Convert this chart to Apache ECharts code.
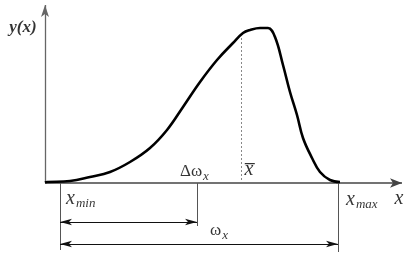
<!DOCTYPE html>
<html><head><meta charset="utf-8">
<script src="https://cdn.jsdelivr.net/npm/echarts@6/dist/echarts.min.js"></script>
<style>html,body{margin:0;padding:0;background:#fff}#c{width:412px;height:257px}</style>
</head><body><div id="c"></div>
<script>
// Distribution curve y(x) (units: px-scaled)
const curveX = [0, 2, 25, 45, 65, 85, 105, 122, 138, 155, 172, 188, 198, 205, 215, 223, 230, 238, 245, 252, 258, 267, 275, 285, 295];
const curveY = [0.5, 1, 2, 6, 11, 21, 35, 53, 76, 101, 123, 140, 150, 153, 155, 155, 146, 118, 91, 68, 45, 25, 11, 3, 1];
// key positions on x
const xMin = 15, xDeltaEnd = 152, xBar = 196, xMax = 293;
const axisXEnd = 357, axisYEnd = 178;
const dimY1 = -39, dimY2 = -61;
// labels
const labelX = [-22, 21, 135, 204, 301, 354, 165];
const labelY = [155, -16, 11, 13, -17, -16, -48];
const labelText = ['{b|y(x)}', '{v|x}{s|min}', '{u|Δω}{s|x}', '{v|x\u0305}', '{v|x}{s|max}', '{v|x}', '{u|ω}{s|x}'];
const labelAlign = ['center', 'left', 'left', 'center', 'left', 'center', 'left'];

const serif = 'Liberation Serif';
const chart = echarts.init(document.getElementById('c'), null, {renderer: 'canvas'});
const thin = {color: '#111', width: 1, type: 'solid'};
const arrowBoth = (x1, x2, y) => [
  {coord: [x1, y], symbol: 'arrow', symbolSize: [5, 12], lineStyle: thin},
  {coord: [x2, y], symbol: 'arrow', symbolSize: [5, 12]}
];
const plain = (x1, y1, x2, y2, style) => [
  {coord: [x1, y1], symbol: 'none', lineStyle: style || {color: '#555', width: 1, type: 'solid'}},
  {coord: [x2, y2], symbol: 'none'}
];
const rich = {
  b: {fontFamily: serif, fontStyle: 'italic', fontWeight: 'bold', fontSize: 17, color: '#000'},
  v: {fontFamily: serif, fontStyle: 'italic', fontSize: 20, color: '#000'},
  u: {fontFamily: serif, fontStyle: 'normal', fontSize: 17, color: '#000'},
  s: {fontFamily: serif, fontStyle: 'italic', fontSize: 13, color: '#000', verticalAlign: 'bottom', padding: [9, 0, 0, 1]}
};
const labelSeries = align => {
  const idx = labelAlign.map((a, i) => a === align ? i : -1).filter(i => i >= 0);
  return {
    type: 'scatter',
    symbolSize: 0,
    clip: false,
    silent: true,
    data: idx.map(i => [labelX[i], labelY[i], i]),
    label: {
      show: true,
      position: 'inside',
      align: align,
      fontFamily: serif,
      fontSize: 20,
      color: '#000',
      formatter: p => labelText[p.value[2]],
      rich: rich
    }
  };
};
chart.setOption({
  animation: false,
  textStyle: {fontFamily: serif},
  grid: {left: 0, right: 0, top: 0, bottom: 0},
  xAxis: {type: 'value', min: -45, max: 367, show: false},
  yAxis: {type: 'value', min: -74, max: 183, show: false},
  series: [
    {
      type: 'line',
      data: curveX.map((x, i) => [x, curveY[i]]),
      smooth: 0.4,
      showSymbol: false,
      symbol: 'none',
      lineStyle: {color: '#000', width: 2.6},
      z: 5,
      markLine: {
        silent: true,
        label: {show: false},
        animation: false,
        data: [
          [{coord: [0, 0], symbol: 'none', lineStyle: {color: '#444', width: 1.5, type: 'solid'}}, {coord: [axisXEnd, 0], symbol: 'arrow', symbolSize: [7, 12]}],
          [{coord: [0, 0], symbol: 'none', lineStyle: {color: '#666', width: 1.3, type: 'solid'}}, {coord: [0, axisYEnd], symbol: 'arrow', symbolSize: [6, 12]}],
          plain(xMin, 0, xMin, -67),
          plain(xDeltaEnd, 0, xDeltaEnd, -43),
          plain(xMax, 0, xMax, -69),
          plain(xBar, 3, xBar, 146, {color: '#888', width: 1, type: [2, 2]}),
          arrowBoth(xMin, xDeltaEnd, dimY1),
          arrowBoth(xMin, xMax, dimY2)
        ]
      }
    },
    labelSeries('center'),
    labelSeries('left')
  ]
});
</script></body></html>
